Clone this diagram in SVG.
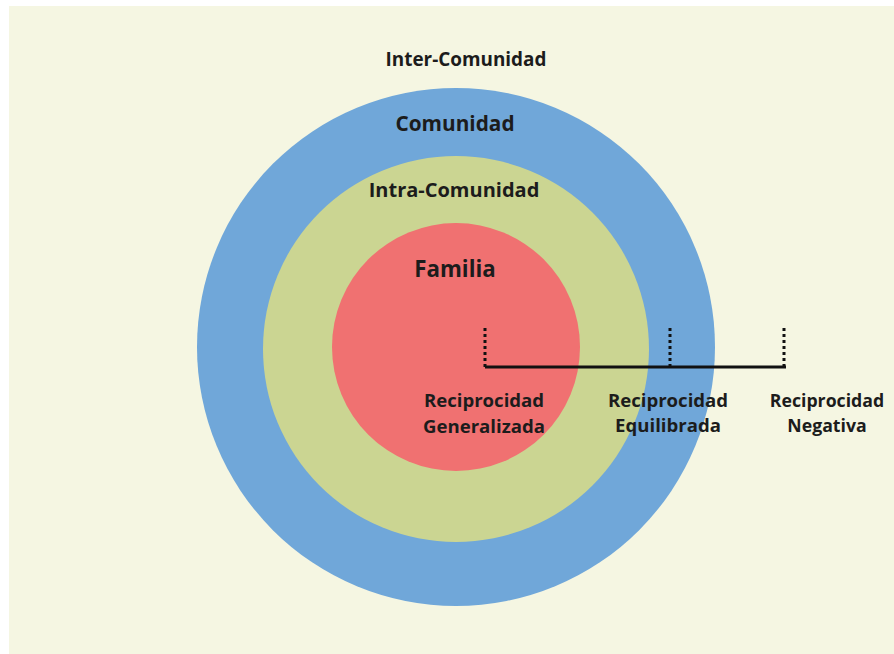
<svg xmlns="http://www.w3.org/2000/svg" width="894" height="654" viewBox="0 0 894 654">
<style>
text{font-family:"Open Sans","DejaVu Sans",sans-serif;font-weight:bold;fill:#1c1c1c;text-anchor:middle}
.lbl{font-size:18.6px}
.tick{stroke:#111;stroke-width:3;stroke-dasharray:3 3;fill:none}
.bar{stroke:#111;stroke-width:3;fill:none}
</style>
<rect x="0" y="0" width="894" height="654" fill="#ffffff"/>
<rect x="9" y="6" width="885" height="648" fill="#f5f6e2"/>
<g id="inter-comunidad">
<text x="466" y="66" style="font-size:18.9px">Inter-Comunidad</text>
</g>
<g id="comunidad">
<circle cx="456" cy="347" r="259" fill="#70a7d9"/>
<text x="455" y="131" style="font-size:20.8px">Comunidad</text>
</g>
<g id="intra-comunidad">
<circle cx="456" cy="349" r="193" fill="#cbd592"/>
<text x="454" y="197" style="font-size:20px">Intra-Comunidad</text>
</g>
<g id="familia">
<circle cx="456" cy="347" r="124" fill="#f07171"/>
<text x="455" y="277" style="font-size:22.3px">Familia</text>
</g>
<g id="connectors">
<path class="bar" d="M485 367 H786"/>
<path class="tick" d="M485 328 V367"/>
<path class="tick" d="M670 328 V367"/>
<path class="tick" d="M784 328 V367"/>
</g>
<g id="reciprocidad-generalizada">
<text class="lbl" x="484" y="407">Reciprocidad</text>
<text class="lbl" x="484" y="433">Generalizada</text>
</g>
<g id="reciprocidad-equilibrada">
<text class="lbl" x="668" y="407">Reciprocidad</text>
<text class="lbl" x="668" y="432">Equilibrada</text>
</g>
<g id="reciprocidad-negativa">
<text class="lbl" x="827" y="407" style="font-size:17.7px">Reciprocidad</text>
<text class="lbl" x="827" y="432" style="font-size:17.7px">Negativa</text>
</g>
</svg>
